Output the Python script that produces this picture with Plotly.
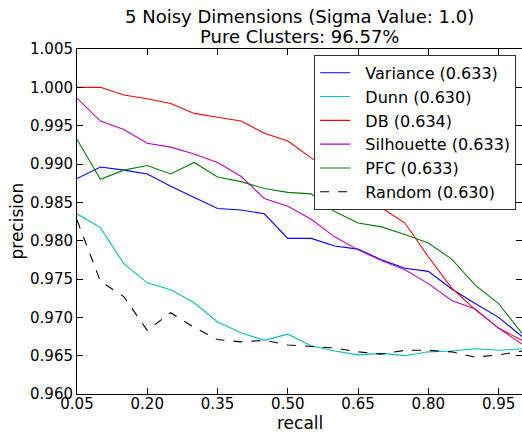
import plotly.graph_objects as go

recall = [0.05, 0.10, 0.15, 0.20, 0.25, 0.30, 0.35, 0.40, 0.45, 0.50,
          0.55, 0.60, 0.65, 0.70, 0.75, 0.80, 0.85, 0.90, 0.95, 1.00]

variance = [0.9881, 0.9896, 0.9892, 0.9887, 0.9871, 0.9857, 0.9842, 0.9840, 0.9835, 0.9803,
            0.9803, 0.9793, 0.9789, 0.9775, 0.9764, 0.9760, 0.9737, 0.9718, 0.9700, 0.9675]
dunn = [0.9835, 0.9817, 0.9770, 0.9745, 0.9736, 0.9719, 0.9694, 0.9680, 0.9670, 0.9678,
        0.9663, 0.9656, 0.9651, 0.9653, 0.9650, 0.9655, 0.9656, 0.9659, 0.9657, 0.9659]
db = [1.0000, 1.0000, 0.9990, 0.9985, 0.9979, 0.9966, 0.9961, 0.9956, 0.9940, 0.9930,
      0.9908, 0.9887, 0.9865, 0.9843, 0.9823, 0.9779, 0.9738, 0.9710, 0.9686, 0.9670]
silhouette = [0.9986, 0.9956, 0.9945, 0.9927, 0.9922, 0.9913, 0.9902, 0.9884, 0.9855, 0.9845,
              0.9828, 0.9805, 0.9788, 0.9774, 0.9762, 0.9744, 0.9722, 0.9711, 0.9686, 0.9665]
pfc = [0.9932, 0.9880, 0.9892, 0.9898, 0.9887, 0.9902, 0.9883, 0.9877, 0.9868, 0.9863,
       0.9861, 0.9838, 0.9823, 0.9818, 0.9808, 0.9797, 0.9776, 0.9742, 0.9718, 0.9679]
random_ = [0.9827, 0.9747, 0.9727, 0.9683, 0.9706, 0.9687, 0.9671, 0.9668, 0.9670, 0.9664,
           0.9662, 0.9660, 0.9655, 0.9652, 0.9657, 0.9657, 0.9655, 0.9648, 0.9651, 0.9656]

series_names = ["Variance (0.633)", "Dunn (0.630)", "DB (0.634)",
                "Silhouette (0.633)", "PFC (0.633)", "Random (0.630)"]
series_values = [variance, dunn, db, silhouette, pfc, random_]
colors = ["#0000ff", "#00bfbf", "#ff0000", "#bf00bf", "#008000", "#000000"]
dashes = ["solid", "solid", "solid", "solid", "solid", "dash"]

x_ticks = [0.05, 0.20, 0.35, 0.50, 0.65, 0.80, 0.95]
y_ticks = [0.960, 0.965, 0.970, 0.975, 0.980, 0.985, 0.990, 0.995, 1.000, 1.005]

title_lines = ["5 Noisy Dimensions (Sigma Value: 1.0)", "Pure Clusters: 96.57%"]
x_label = "recall"
y_label = "precision"

FONT = "DejaVu Sans"
NBSP = "\u00a0"

fig = go.Figure()
for i, (name, vals, c, d) in enumerate(zip(series_names, series_values, colors, dashes)):
    fig.add_trace(go.Scatter(x=recall, y=vals, mode="lines", name=NBSP * 2 + name,
                             legendgroup=f"g{i}",
                             line=dict(color=c, width=1.1, dash=d)))

axis_common = dict(showgrid=False, zeroline=False, showline=True, linecolor="black",
                   linewidth=1, mirror="ticks", ticks="inside", ticklen=6,
                   tickcolor="black", tickfont=dict(family=FONT, size=15, color="black"))

fig.update_layout(
    width=522, height=435,
    margin=dict(l=77, r=0, t=49, b=41, autoexpand=False),
    paper_bgcolor="white", plot_bgcolor="white",
    font=dict(family=FONT, size=15, color="black"),
    xaxis=dict(range=[0.05, 1.0], tickvals=x_ticks, ticktext=[f"{v:.2f}" for v in x_ticks],
               automargin=False, ticklabelstandoff=-4, **axis_common),
    yaxis=dict(range=[0.960, 1.005], tickvals=y_ticks, ticktext=[f"{v:.3f}" for v in y_ticks],
               automargin=False, **axis_common),
    legend=dict(x=0.533, y=0.983, xanchor="left", yanchor="top",
                bgcolor="white", bordercolor="#333333", borderwidth=1,
                font=dict(family=FONT, size=16, color="black"),
                tracegroupgap=0, itemwidth=30),
    showlegend=True,
)

# titles as annotations placed relative to plot area (345 px tall, 445 px wide)
fig.add_annotation(text=title_lines[0], xref="paper", yref="paper", x=0.5, y=(394 - 17) / 345,
                   xanchor="center", yanchor="middle", showarrow=False,
                   font=dict(family=FONT, size=18, color="black"))
fig.add_annotation(text=title_lines[1], xref="paper", yref="paper", x=0.5, y=(394 - 37) / 345,
                   xanchor="center", yanchor="middle", showarrow=False,
                   font=dict(family=FONT, size=18, color="black"))
fig.add_annotation(text=x_label, xref="paper", yref="paper", x=0.5, y=(394 - 423) / 345,
                   xanchor="center", yanchor="middle", showarrow=False,
                   font=dict(family=FONT, size=17, color="black"))
fig.add_annotation(text=y_label, xref="paper", yref="paper", x=(16 - 77) / 445, y=0.5,
                   xanchor="center", yanchor="middle", showarrow=False, textangle=-90,
                   font=dict(family=FONT, size=17, color="black"))

fig.write_html("out.html", config={"displayModeBar": False},
               post_script="document.body.style.margin='0';")
